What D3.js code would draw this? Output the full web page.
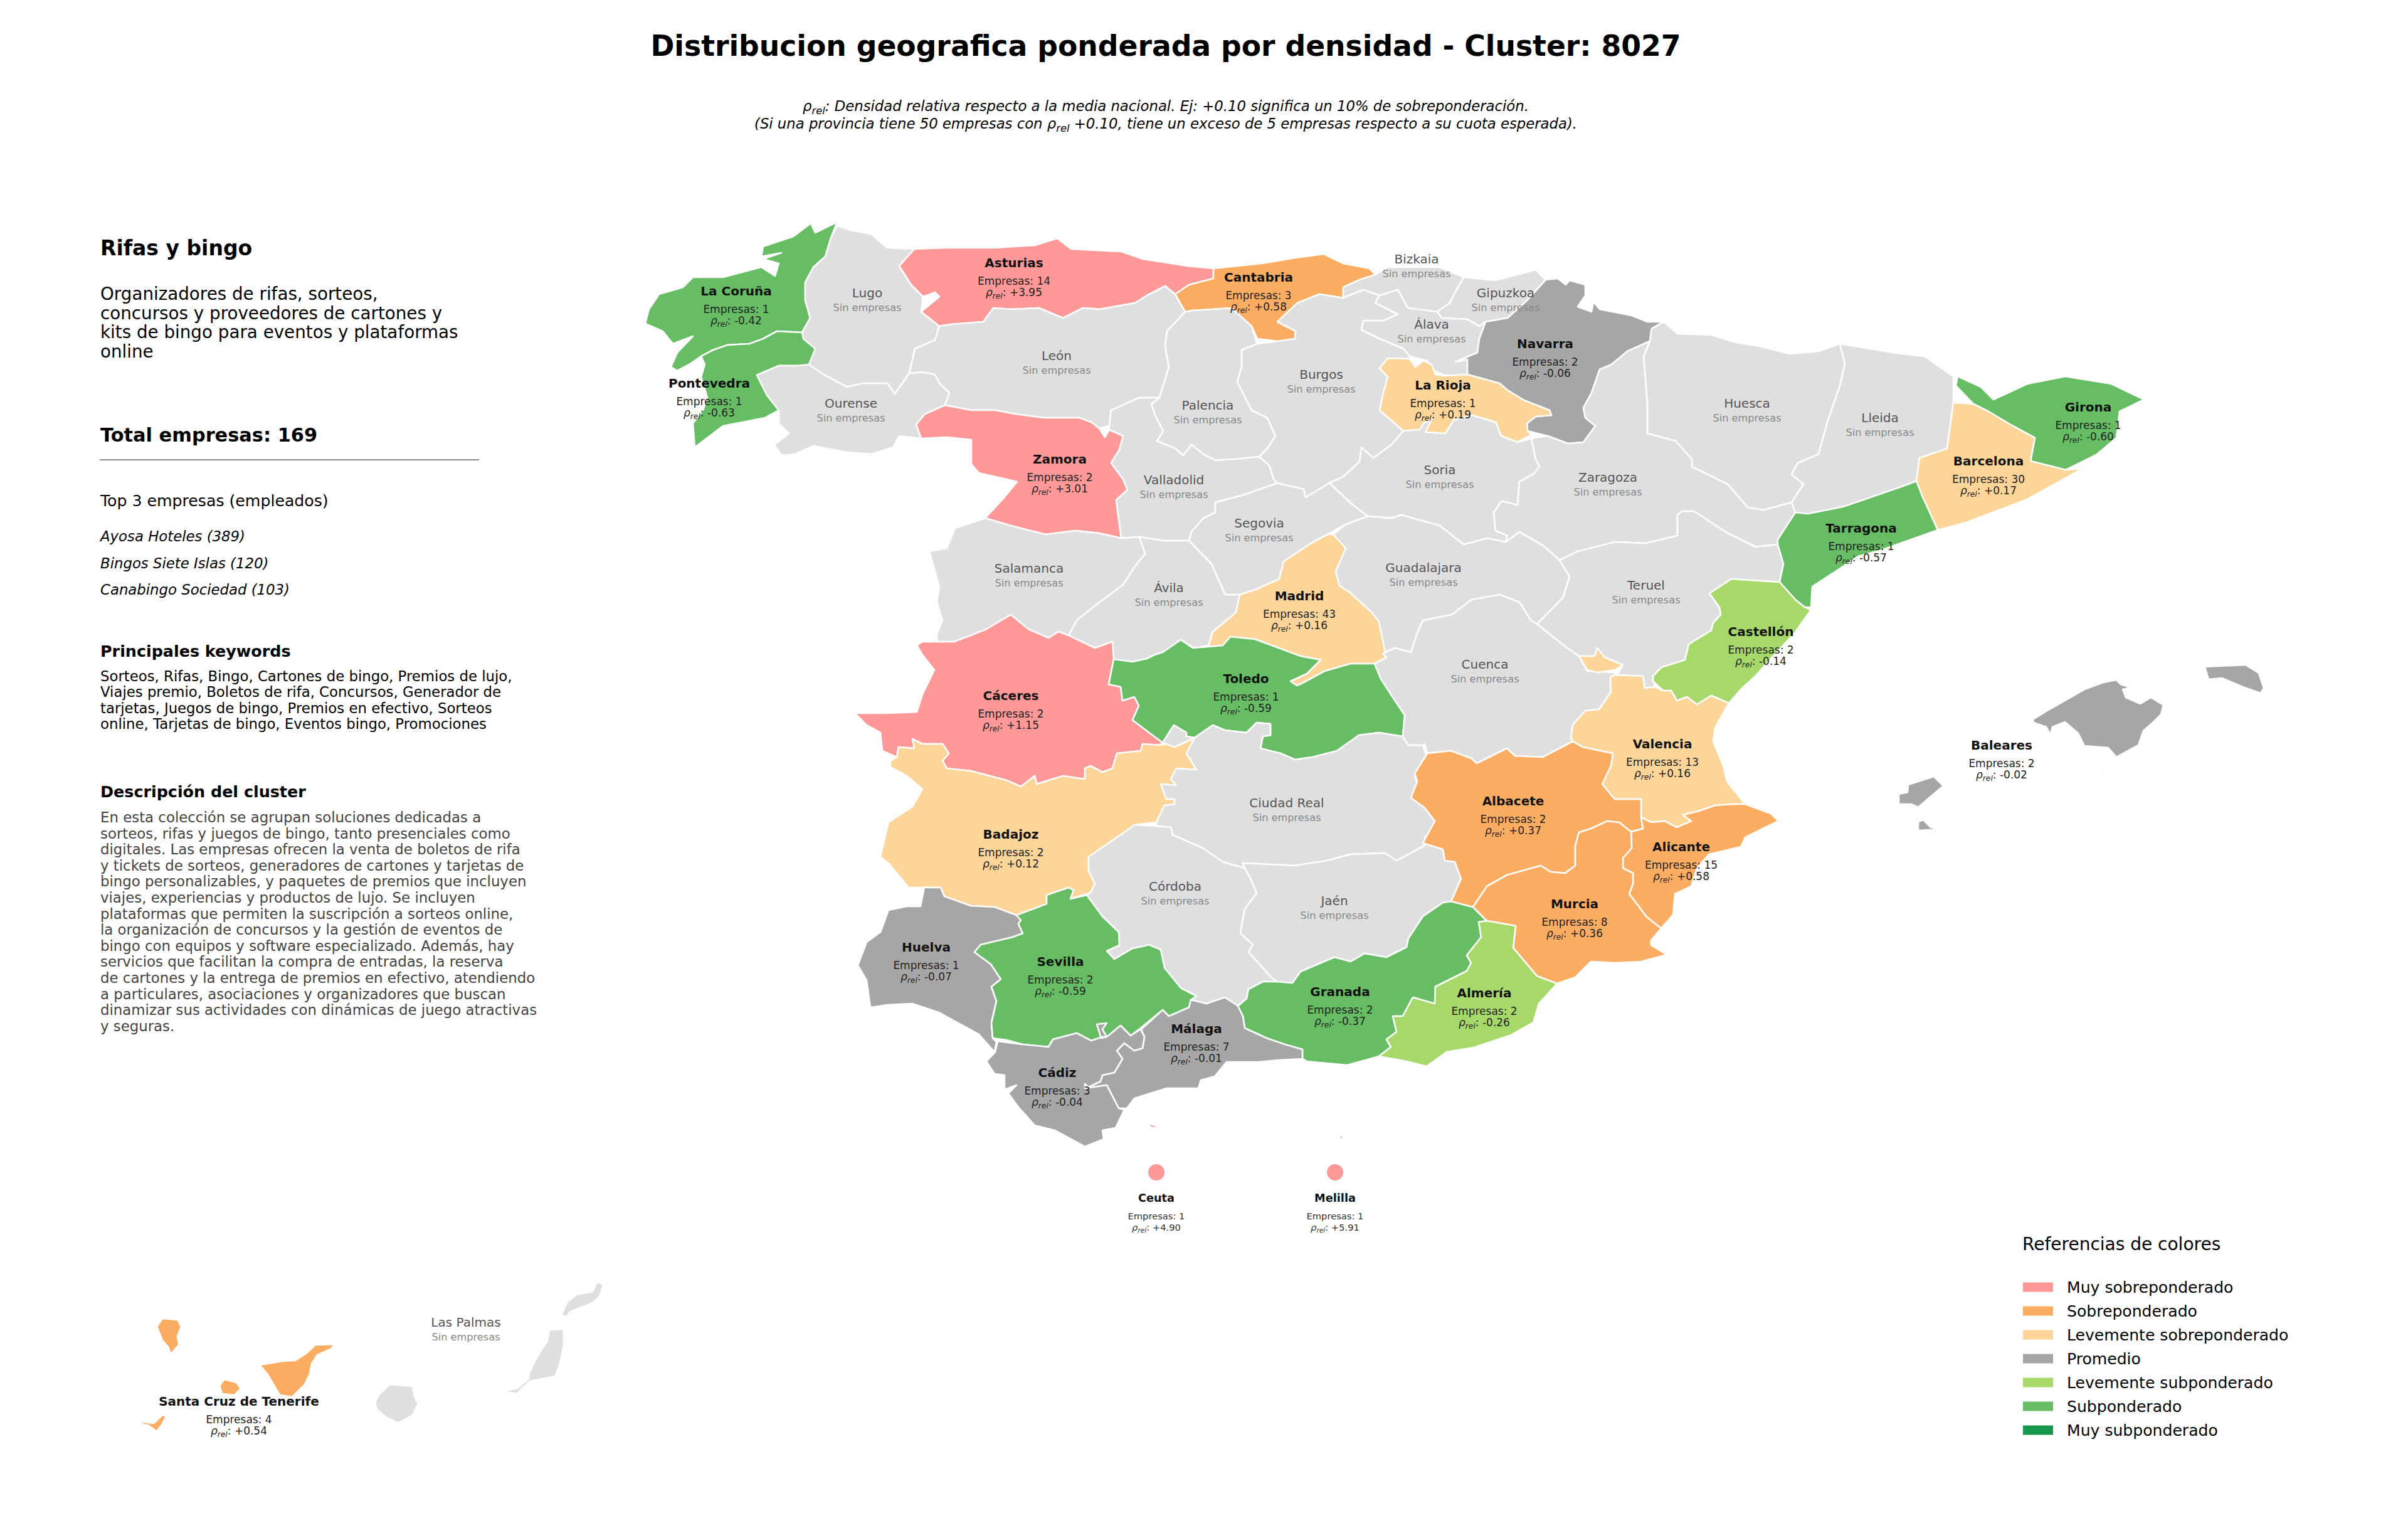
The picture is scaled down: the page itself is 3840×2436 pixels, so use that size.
<!DOCTYPE html>
<html><head><meta charset="utf-8">
<style>html,body{margin:0;padding:0;background:#fff}svg{display:block}text{font-family:"DejaVu Sans",sans-serif}</style>
<script src="https://cdn.jsdelivr.net/npm/d3@7/dist/d3.min.js"></script>
</head><body><svg id="c" width="3840" height="2436"></svg>
<script>
const titleText = "Distribucion geografica ponderada por densidad - Cluster: 8027";
const clusterName = "Rifas y bingo";
const clusterBlurb = ["Organizadores de rifas, sorteos,","concursos y proveedores de cartones y","kits de bingo para eventos y plataformas","online"];
const totalText = "Total empresas: 169";
const topHeading = "Top 3 empresas (empleados)";
const topCompanies = ["Ayosa Hoteles (389)","Bingos Siete Islas (120)","Canabingo Sociedad (103)"];
const keywordHeading = "Principales keywords";
const keywordLines = ["Sorteos, Rifas, Bingo, Cartones de bingo, Premios de lujo,","Viajes premio, Boletos de rifa, Concursos, Generador de","tarjetas, Juegos de bingo, Premios en efectivo, Sorteos","online, Tarjetas de bingo, Eventos bingo, Promociones"];
const descHeading = "Descripción del cluster";
const descLines = ["En esta colección se agrupan soluciones dedicadas a","sorteos, rifas y juegos de bingo, tanto presenciales como","digitales. Las empresas ofrecen la venta de boletos de rifa","y tickets de sorteos, generadores de cartones y tarjetas de","bingo personalizables, y paquetes de premios que incluyen","viajes, experiencias y productos de lujo. Se incluyen","plataformas que permiten la suscripción a sorteos online,","la organización de concursos y la gestión de eventos de","bingo con equipos y software especializado. Además, hay","servicios que facilitan la compra de entradas, la reserva","de cartones y la entrega de premios en efectivo, atendiendo","a particulares, asociaciones y organizadores que buscan","dinamizar sus actividades con dinámicas de juego atractivas","y seguras."];
const legendTitle = "Referencias de colores";
const legendLabels = ["Muy sobreponderado","Sobreponderado","Levemente sobreponderado","Promedio","Levemente subponderado","Subponderado","Muy subponderado"];
const legendColors = ["#ff9896","#fdad62","#fed598","#a6a6a6","#a6d96a","#66bd63","#1a9850"];

const names = ["La Coruña","Lugo","Asturias","Pontevedra","Ourense","León","Palencia","Zamora","Valladolid","Salamanca","Ávila","Cantabria","Bizkaia","Gipuzkoa","Álava","Navarra","Burgos","La Rioja","Huesca","Soria","Zaragoza","Segovia","Guadalajara","Madrid","Teruel","Lleida","Girona","Barcelona","Tarragona","Cáceres","Toledo","Badajoz","Ciudad Real","Córdoba","Jaén","Huelva","Sevilla","Granada","Cuenca","Castellón","Valencia","Albacete","Alicante","Murcia","Almería","Málaga","Cádiz","Baleares","Santa Cruz de Tenerife","Las Palmas","Ceuta","Melilla"];
const empresas = [1,0,14,1,0,0,0,2,0,0,0,3,0,0,0,2,0,1,0,0,0,0,0,43,0,0,1,30,1,2,1,2,0,0,0,1,2,2,0,2,13,2,15,8,2,7,3,2,4,0,1,1];
const rho = [-0.42,null,3.95,-0.63,null,null,null,3.01,null,null,null,0.58,null,null,null,-0.06,null,0.19,null,null,null,null,null,0.16,null,null,-0.60,0.17,-0.57,1.15,-0.59,0.12,null,null,null,-0.07,-0.59,-0.37,null,-0.14,0.16,0.37,0.58,0.36,-0.26,-0.01,-0.04,-0.02,0.54,null,4.90,5.91];
const labelX = [117.4,138.3,161.7,113.1,135.7,168.5,192.6,169,187.2,164.1,186.4,200.7,225.9,240.1,228.3,246.4,210.7,230.1,278.6,229.6,256.4,200.8,227,207.2,262.5,299.8,333,317.1,296.8,161.2,198.7,161.2,205.2,187.4,212.8,147.7,169.1,213.7,236.8,280.8,265.1,241.3,268.1,251.1,236.7,190.8,168.6,319.2,38.1,74.3,184.4,212.9];
const labelY = [46.4,46.7,41.9,61.1,64.3,56.7,64.6,73.2,76.5,90.6,93.7,44.2,41.3,46.7,51.7,54.8,59.7,61.4,64.3,74.9,76.1,83.4,90.5,95,93.3,66.6,64.9,73.5,84.2,110.9,108.2,133,128,141.3,143.6,151,153.3,158.1,105.9,100.7,118.6,127.7,135,144.1,158.3,164,171,118.8,223.4,210.8,191,191];

// Outlines, in map grid units (flat x,y lists, one list per ring)
const outlines = {
"La Coruña":[[133.5,35.4,132.5,37.9,131.6,40.9,129.7,42.6,128.4,45,128.4,47.9,129.2,50.7,127.9,53,123.9,52.8,121.7,54,119.5,54.8,116,55,113.7,55.8,111.8,56.8,109.9,58.1,108,59.1,107,58.5,108,56.2,110.5,53.6,107.3,54.8,105.7,52.8,102.9,51.6,103.5,49.3,105.1,46.9,108.9,45.8,110.5,44.2,115.3,44.2,119.1,43.2,121.4,42.6,123.6,44,124.2,42,121.7,41.3,124.6,40.3,121.4,40.9,121.7,39.3,126.5,37.7,129.3,35.6,130,37.1]],
"Pontevedra":[[127.9,53,128.1,54,130,55.6,129,58.1,127.4,58.3,124.2,58.3,120.7,59.8,122.3,63,124.2,65.4,122,66.6,115.3,67.9,110.8,71.3,110.5,67.5,112.1,65.4,112.8,63.4,111.8,60.1,112.4,58.1,111.8,56.8,113.7,55.8,116,55,119.5,54.8,121.7,54,123.9,52.8]],
"Lugo":[[133.5,36,135.7,36.7,138.9,37.3,141.5,39.5,145.8,39.7,143.4,42.4,145.3,45.4,147.2,47.3,146.9,49.7,149.8,52,149.1,54.2,145.9,55.6,145,59.5,142.7,62.8,141.5,61.1,137.6,61.1,135.1,61.7,131.3,59.7,129,58.1,130,55.6,128.1,54,127.9,53,129.2,50.7,128.4,47.9,128.4,45,129.7,42.6,131.6,40.9,132.5,37.9]],
"Asturias":[[145.8,39.7,151,39.5,158.7,39.5,165.1,39.1,168.6,38,170.8,39.7,178.8,40.1,182.3,41.3,189.3,42.4,193.5,42.8,193.5,44.4,189.6,45.4,187.4,46.9,185.8,45.6,182.9,47.1,181,48.3,175.3,49.3,172.7,49.1,169.5,50.7,165.7,49.1,161.2,49.3,158.4,49.1,156.8,51.3,151.7,51.7,149.8,52,146.9,49.7,149.8,47.3,149.1,46.6,147.2,47.3,145.3,45.4,143.4,42.4]],
"León":[[149.8,52,151.7,51.7,156.8,51.3,158.4,49.1,161.2,49.3,165.7,49.1,169.5,50.7,172.7,49.1,175.3,49.3,181,48.3,182.9,47.1,185.8,45.6,187.4,46.9,189,49.7,186.1,52.8,185.8,55.2,186.4,58.5,184.9,63.4,181.7,63.4,177.2,65.4,176.9,67.9,175.3,68.3,174,67.3,172.1,66.6,166.4,66.6,161.9,66,158.7,65.4,154.9,65.4,150.7,64.6,151.4,62.6,149.8,61.1,149.1,59.7,147.2,59.3,145,59.5,145.9,55.6,149.1,54.2]],
"Ourense":[[129,58.1,131.3,59.7,135.1,61.7,137.6,61.1,141.5,61.1,142.7,62.8,145,59.5,147.2,59.3,149.1,59.7,149.8,61.1,151.4,62.6,150.7,64.6,147.5,66,146.1,67.7,146.9,69.9,143.4,69.5,142.4,71.3,138.9,72.4,135.1,72.1,129.7,71.1,126.8,72.4,124.6,72.6,123.5,70.9,125.8,69.1,124.2,67.5,124.2,65.4,122.3,63,120.7,59.8,124.2,58.3,127.4,58.3]],
"Zamora":[[150.7,64.6,154.9,65.4,158.7,65.4,161.9,66,166.4,66.6,172.1,66.6,174,67.3,175.3,68.3,176.2,69.7,176.9,68.5,179.1,69.5,178.5,71.7,177.2,73.8,179.1,76.4,179.8,78.1,178,79.7,178.8,85.8,175.3,85,171.5,84.6,166.7,85.2,161.2,83.8,157.1,82.6,160.3,79.1,162.2,76.8,156.1,75.4,154.9,74,154.9,70.1,151,69.7,146.9,69.9,146.1,67.7,147.5,66]],
"Salamanca":[[157.1,82.6,161.2,83.8,166.7,85.2,171.5,84.6,175.3,85,178.8,85.8,181.7,85.6,182.6,88.3,181,90.3,179.1,93.2,174.6,96.6,171.7,98.9,170.4,101.3,168.8,100.7,167.2,101.7,164,100.3,161.2,98,157.3,100.3,154.8,101.3,152.2,102.3,149.4,102.3,149.4,101.1,150.3,98.9,149.4,96,149.8,93.6,148.2,87.9,151,87.4,152.3,84.2]],
"Valladolid":[[176.9,68.5,176.9,67.9,177.2,65.4,181.7,63.4,184.9,63.4,183.6,64.4,184.2,66.2,185.5,68.7,184.5,70.3,187.4,71.5,188.7,72.6,190,70.9,191.9,72.4,193.8,73.4,197,73.2,200.8,72.8,202.4,74.2,203.1,76.4,203.7,77,198.3,78.9,193.8,80.1,193.8,81.7,191.9,82.6,190,84.8,189.6,86.2,185.5,86.2,181.7,85.6,178.8,85.8,178,79.7,179.8,78.1,179.1,76.4,177.2,73.8,178.5,71.7,179.1,69.5]],
"Palencia":[[187.4,46.9,189,49.7,190,49.5,196.4,49.1,199.6,52,200.2,54,200.5,54.8,198,55.8,198,58.5,197.3,60.9,199.6,65.4,202.1,66.6,203.4,69.5,202.1,71.5,200.8,72.8,197,73.2,193.8,73.4,191.9,72.4,190,70.9,188.7,72.6,187.4,71.5,184.5,70.3,185.5,68.7,184.2,66.2,183.6,64.4,184.9,63.4,186.4,58.5,185.8,55.2,186.1,52.8,189,49.7]],
"Ávila":[[181.7,85.6,185.5,86.2,189.6,86.2,190,86.6,193.2,89.9,195.4,94.8,197.7,94.8,197.1,97.6,196.2,98.4,193.4,100.7,192.7,102.9,190.5,103.3,188.3,102,185.4,104,184.1,104.4,182.9,105,180.6,105.5,177.6,105.1,177.4,102.3,174.6,103.3,170.4,101.3,171.7,98.9,174.6,96.6,179.1,93.2,181,90.3,182.6,88.3]],
"Cantabria":[[193.5,42.8,201.2,42,206.6,41.1,211.1,40.5,214.2,42,218.4,42.8,219.3,43.8,216.8,44.6,214.2,45.8,214.2,47.5,210.4,46.9,206.9,48.3,203.7,51.3,206.6,52.8,206.5,54,203.7,54.4,200.5,54,199.6,52,196.4,49.1,190,49.5,189,49.7,187.4,46.9,189.6,45.4,193.5,44.4]],
"Bizkaia":[[219.3,43.8,221.3,42.6,229.6,42.6,233.4,44.2,231.8,47.1,231.2,48.3,229.2,49.7,224.5,49.1,222.9,46.2,220,47.1,217.4,46.2,214.2,47.5,214.2,45.8,216.8,44.6]],
"Gipuzkoa":[[233.4,44.2,238.5,44.7,244.9,43,246.5,44.6,243.3,48.1,240.4,50.7,236.9,51.3,235.9,52,234,50.9,229.9,50.7,229.2,49.7,231.2,48.3,231.8,47.1]],
"Álava":[[220,47.1,222.9,46.2,224.5,49.1,229.2,49.7,229.9,50.7,234,50.9,235.9,52,236.9,51.3,235.9,54,235.6,56.2,232.1,57.7,234,57.3,234,59.7,230.5,59.9,228.3,58.9,227.6,57.5,224.8,56.8,223.8,55.6,220,54,217.1,52.6,217.4,51.1,220.6,51.1,222.9,50.1,219.3,48.3]],
"Navarra":[[246.5,44.6,248.4,44.4,249.7,45.4,250.3,44.7,252.8,45.4,252.8,47.1,251.6,48.9,253.8,49.7,254.1,48.1,255.1,49.3,260.2,50.3,262.7,51.3,265.3,51.3,263.4,52.4,263.1,54.4,259.5,56,257,58.1,255.1,58.9,253.8,62.6,252.5,65,252.8,66.6,254.4,67.9,252.5,70.5,250,70.7,246.8,69.5,243.6,68.7,243.5,67.5,244.9,66.4,247.4,66.2,247.1,65.4,243,63.8,240.4,62.2,239.1,61.1,234,59.7,234,57.3,232.1,57.7,235.6,56.2,235.9,54,236.9,51.3,240.4,50.7,243.3,48.1]],
"La Rioja":[[221.3,57.1,224.8,57.2,225.7,58.5,227,57.5,228.3,58.1,228.9,59.7,230.2,59.9,234,59.7,239.1,61.1,240.4,62.2,243,63.8,247.1,65.4,247.4,66.2,244.9,66.4,243.5,67.5,243.6,68.7,244.2,69.3,242,70.5,239.4,69.5,238.5,67.3,234.7,66.2,231.8,67,230.5,69.1,227.3,68.9,228.3,66.8,227,67.5,226.4,68.5,223.8,68.7,220,65.4,220.6,62.6,221.3,60.1,220,58.7]],
"Burgos":[[200.5,54.8,203.7,54.4,206.5,54,206.6,52.8,203.7,51.3,206.9,48.3,210.4,46.9,214.2,47.5,217.4,46.2,220,47.1,219.3,48.3,222.9,50.1,220.6,51.1,217.4,51.1,217.1,52.6,220,54,223.8,55.6,224.8,56.8,224.8,57.2,221.3,57.1,220,58.7,221.3,60.1,220.6,62.6,220,65.4,223.8,68.7,221.9,70.9,219,73,217.1,71.3,216.8,73.6,214.2,76,212,77,208.2,79.3,207.9,78,203.7,77,203.1,76.4,202.4,74.2,200.8,72.8,202.1,71.5,203.4,69.5,202.1,66.6,199.6,65.4,197.3,60.9,198,58.5,198,55.8]],
"Soria":[[223.8,68.7,226.4,68.5,227,67.5,228.3,66.8,227.3,68.9,230.5,69.1,231.8,67,234.7,66.2,238.5,67.3,239.4,69.5,242,70.5,244.2,69.9,244.9,73.2,245.5,74.4,244.5,75.6,242.3,76.8,242,80.5,239.4,79.9,238.2,81.7,238.5,84.6,240.4,85.4,240.1,86.4,237.2,85.8,233.4,86.8,229.6,83.8,223.5,82.1,221.9,82.6,218.1,82.3,215.5,80.3,212,77,214.2,76,216.8,73.6,217.1,71.3,219,73,221.9,70.9]],
"Segovia":[[193.8,80.1,198.3,78.9,203.7,77,207.9,78,208.2,79.3,212,77,215.5,80.3,218.1,82.3,214.6,83.6,211.7,85.2,209.1,86.6,204.7,89.5,204,92.3,200.2,94,197.7,94.8,195.4,94.8,193.2,89.9,190,86.6,189.6,86.2,190,84.8,191.9,82.6,193.8,81.7]],
"Guadalajara":[[218.1,82.3,221.9,82.6,223.5,82.1,229.6,83.8,233.4,86.8,237.2,85.8,240.1,86.4,242.3,84.8,246.1,87,248.7,89.3,250.3,91.9,249.3,95.2,245.1,99.5,244.1,98.9,242.3,96,239.1,94.8,234.7,95.6,231.5,98,226.9,98.9,226,100.9,225,104,222.4,103.3,220.5,104.2,220.5,102.1,219.9,99.1,218.7,97.6,215.2,94.4,213.6,93.4,213,91.1,214.6,87.4,212.6,85.2,214.6,83.6]],
"Madrid":[[211.7,85.2,212.6,85.2,214.6,87.4,213,91.1,213.6,93.4,215.2,94.4,218.7,97.6,219.9,99.1,220.5,102.1,221.1,104.8,219.2,105.8,215.4,105.8,211.2,107,207.7,108.9,206.8,109.3,205.8,108.6,208.4,107.4,210.6,105.2,207.4,104.6,203.9,103.3,200.1,101.9,196.2,101.5,195,102.9,192.7,103.1,193.4,100.7,196.2,98.4,197.1,97.6,197.7,94.8,200.2,94,204,92.3,204.7,89.5,209.1,86.6]],
"Toledo":[[177.6,105.1,180.6,105.5,182.9,105,184.1,104.4,185.4,104,188.3,102,190.2,103.3,192.7,103.1,195,102.9,196.2,101.5,200.1,101.9,203.9,103.3,207.4,104.6,210.6,105.2,208.4,107.4,205.8,108.6,206.8,109.3,207.7,108.9,211.2,107,215.4,105.8,219.2,105.8,220.2,108.2,221.8,110.7,224,114,223.7,117.4,219.9,116.8,216.7,117.2,213.2,119.7,209.3,120.7,206.5,121.1,204.2,120.1,201,119.3,201.4,117.4,202.6,117.2,202.6,115.4,200.4,115.2,198.8,116.8,195.3,116.4,193.4,115.6,190.5,117.6,189.2,117.4,189.2,116.8,187.2,115.6,185.4,118.4,180.6,114.8,181.6,112.5,180.9,111.1,179,111.7,178.7,109.5,176.8,109.1]],
"Cáceres":[[149.4,102.3,152.2,102.3,154.8,101.3,157.3,100.3,161.2,98,164,100.3,167.2,101.7,168.8,100.7,170.4,101.3,174.6,103.3,177.4,102.3,177.6,105.1,176.8,109.1,178.7,109.5,179,111.7,180.9,111.1,181.6,112.5,180.6,114.8,185.4,118.4,184.8,118.8,182.2,118.6,181.9,119.7,178.1,120.1,177.4,122.5,175.8,123.1,173.9,122.1,173,122.5,173,124.2,169.5,123.7,166.6,124.6,165.3,125,165,123.7,162.8,125.4,160.5,124.4,154.8,122.9,151,122.5,150.3,121.3,151.3,120.1,150.3,118.6,147.1,118.6,145.5,117.8,145.8,119.3,143.3,119.1,143,120.7,140.7,119.7,140.4,116.8,138.2,115.6,136.3,113.7,141.4,113.7,146.2,113.5,147.1,110.7,149,106.8,147.1,104.4,146.2,102.9,147.1,102.3]],
"Badajoz":[[143,120.7,143.3,119.1,145.8,119.3,145.5,117.8,147.1,118.6,150.3,118.6,151.3,120.1,150.3,121.3,151,122.5,154.8,122.9,160.5,124.4,162.8,125.4,165,123.7,165.3,125,166.6,124.6,169.5,123.7,173,124.2,173,122.5,173.9,122.1,175.8,123.1,177.4,122.5,178.1,120.1,181.9,119.7,182.2,118.6,184.8,118.8,186,118.6,187.3,119.1,190.5,117.6,189.2,120.1,190.8,122.7,187.6,122.5,186.7,124.2,187.6,125.2,185.1,125,186,127.4,187.3,127.4,187.3,128.2,185.7,128.4,184.4,131.1,180.9,131.5,179,132.9,176.8,134.4,173.6,136.6,173.6,138.8,174.6,140.9,173.9,142.3,173.3,142.5,170.7,143.3,171.2,141.9,170.4,141.5,166.9,142.7,166.9,144.1,162.1,145.9,158.6,144.6,154.8,144.4,150.6,142.9,150,141.5,147.8,141.5,144.9,141.5,141.7,137.6,140.4,136.6,141.7,131.1,145.5,128.6,147.1,125.8,144.6,123.7,142,122.3,142,121.3]],
"Ciudad Real":[[190.5,117.6,193.4,115.6,195.3,116.4,198.8,116.8,200.4,115.2,202.6,115.4,202.6,117.2,201.4,117.4,201,119.3,204.2,120.1,206.5,121.1,209.3,120.7,213.2,119.7,216.7,117.2,219.9,116.8,223.7,117.4,224.6,118.8,226.9,118.8,227.5,120.5,225.6,123.7,226.2,125.4,225,127.2,227.2,128.6,229.1,131.3,227.2,133.5,227.2,134.8,222.7,137.2,220.8,136,215.4,136.2,211.6,137.2,206.5,138,198.2,137.6,198.5,138.4,195,137.4,191.8,135.2,187,133.1,186.7,131.9,184.4,131.7,184.4,131.1,185.7,128.4,187.3,128.2,187.3,127.4,186,127.4,185.1,125,187.6,125.2,186.7,124.2,187.6,122.5,190.8,122.7,189.2,120.1],[185.4,118.4,187.2,115.6,189.2,116.8,189.2,117.4,190.5,117.6,187.3,119.1,186,118.6]],
"Cuenca":[[220.5,104.2,222.4,103.3,225,104,226,100.9,226.9,98.9,231.5,98,234.7,95.6,239.1,94.8,242.3,96,244.1,98.9,245.1,99.5,249.9,103.3,251.8,104.6,253.1,107,257.5,107.2,257.5,107.6,256.8,108,256.9,110.3,255,113.1,252.8,113.3,250.8,115.6,250.5,117.6,250.8,118.2,246,120.7,241.6,120.5,240.3,119.3,235.5,121.7,234.6,120.9,231.4,119.7,227.6,120.1,227.2,118.6,226.9,118.8,224.6,118.8,223.7,117.4,224,114,221.8,110.7,220.2,108.2,219.2,105.8,221.1,104.8]],
"Teruel":[[248.7,89.3,251.6,87.9,257.6,86.4,262.4,86.6,267.5,85.4,267.5,82.1,268.2,81.5,270.1,81.5,275.5,85,280,87.2,283.5,86.8,284.4,89.9,283.8,92.8,276.1,92.3,272.6,94.6,274.2,96.8,274.4,98,273.2,99.3,272.9,100.5,269.3,102.7,268.7,105.2,264.9,106.4,263.6,107.8,263.9,109.5,262.3,109.7,262,107.8,257.9,107.6,258.8,106,255.9,104.8,254.7,103.3,254.3,104.6,251.8,104.6,249.9,103.3,245.1,99.5,249.3,95.2,250.3,91.9]],
"Zaragoza":[[244.2,69.9,246.8,69.5,250,70.7,252.5,70.5,254.4,67.9,252.8,66.6,252.5,65,253.8,62.6,255.1,58.9,257,58.1,259.5,56,263.1,54.4,262.1,56.8,262.4,60.5,262.7,64.6,262.7,69.1,267.2,70.3,269.8,73.2,269.8,74.4,275.5,77.2,278.7,80.9,281.2,81.3,285.7,80.1,286.3,81.7,283.5,86,283.5,86.8,280,87.2,275.5,85,270.1,81.5,268.2,81.5,267.5,82.1,267.5,85.4,262.4,86.6,257.6,86.4,251.6,87.9,248.7,89.3,246.1,87,242.3,84.8,240.1,86.4,240.4,85.4,238.5,84.6,238.2,81.7,239.4,79.9,242,80.5,242.3,76.8,244.5,75.6,245.5,74.4,244.9,73.2]],
"Huesca":[[265.3,51.3,267.5,53.2,272.9,53.4,276.8,54.6,280.6,55.2,285.4,56.4,290,56,293.4,54.8,294.2,58,293.4,61.5,291.5,67,290,72.4,286.7,73.8,285.7,75.6,287.6,77.2,285.7,80.1,281.2,81.3,278.7,80.9,275.5,77.2,269.8,74.4,269.8,73.2,267.2,70.3,262.7,69.1,262.7,64.6,262.4,60.5,262.1,56.8,263.1,54.4,263.4,52.4]],
"Lleida":[[293.4,54.8,302.5,56.3,306.9,56.8,311.5,60,311.5,64.2,310.5,71.5,306.1,73,305.6,76.7,303.2,77.6,293.9,80.8,288.3,81.9,286.3,81.7,285.7,80.1,287.6,77.2,285.7,75.6,286.7,73.8,290,72.4,291.5,67,293.4,61.5,294.2,58]],
"Tarragona":[[288.3,81.9,293.9,80.8,303.2,77.6,305.6,76.7,306.5,79,309,84.5,300,87.7,296.3,88.7,292.7,91.1,289,93.5,288.8,96.8,287.8,96.8,286.3,95.6,283.8,92.8,284.4,89.9,283.5,86.8,283.5,86,286.3,81.7]],
"Girona":[[312.2,60,315.9,61.7,317.9,63.7,323.3,61.2,329.4,60,336.7,61.2,341.9,63.7,338,65.6,337.5,69.8,334.3,72.5,329.4,74.9,323.8,73.5,324.5,69.8,320.8,67.8,317.1,65.6,314.7,64.4,311.9,61.5]],
"Barcelona":[[311.5,64.2,314.7,64.4,317.1,65.6,320.8,67.8,324.5,69.8,323.8,73.5,329.4,74.9,332.1,74.7,323.3,79.6,313.5,83.3,309,84.5,306.5,79,305.6,76.7,306.1,73,310.5,71.5]],
"Castellón":[[283.8,92.8,286.3,95.6,287.8,96.8,288.8,97.2,286.2,100.9,282.4,105,279.9,107.8,277.6,109.9,275.7,112.1,272.9,110.9,270.6,112.3,269,111.1,267.4,111.7,266.5,110.1,265.2,110.1,263.6,108.6,263.6,107.8,264.9,106.4,268.7,105.2,269.3,102.7,272.9,100.5,273.2,99.3,274.4,98,274.2,96.8,272.6,94.6,276.1,92.3]],
"Valencia":[[257.5,107.6,262,107.8,262.3,109.7,263.9,109.5,265.2,110.1,266.5,110.1,267.4,111.7,269,111.1,270.6,112.3,272.9,110.9,275.7,112.1,273.5,116,273.2,118.2,274.8,122.1,275.4,124.6,278.3,128.2,276.4,128.2,273.5,128.4,270.9,129.3,268.4,129.9,269.7,130.9,267.4,131.9,265.5,130.9,263.3,131.1,261.7,130.3,261.7,127.4,257.5,127.4,255.5,125,256.9,122.1,257.2,120.1,252.4,119.1,250.8,118.2,250.5,117.6,250.8,115.6,252.8,113.3,255,113.1,256.9,110.3,256.8,108],[251.8,104.6,254.3,104.6,254.7,103.3,255.9,104.8,258.8,106,257.5,106.8,254.7,107.2,253.1,106.8]],
"Albacete":[[227.6,120.1,231.4,119.7,234.6,120.9,235.5,121.7,240.3,119.3,241.6,120.5,246,120.7,250.8,118.2,252.4,119.1,257.2,120.1,256.9,122.1,255.5,125,257.5,127.4,261.7,127.4,261.7,130.3,262,132.1,260.1,132.6,258.2,131.1,256.3,130.9,253.7,132.1,251.8,132.7,251.2,134.8,251.2,138,249.6,139.2,247.3,139,245.7,138,240.3,139.5,237.1,141.3,234.9,144.6,231.4,143.7,233,140.1,232,137.4,230.4,137.2,230.1,135.4,226.9,134.4,228.8,130.9,227.2,128.8,225,127.2,226,124.6,225.6,123.3]],
"Murcia":[[234.9,144.6,237.1,141.3,240.3,139.5,245.7,138,247.3,139,249.6,139.2,251.2,138,251.2,134.8,251.8,132.7,253.7,132.1,256.3,130.9,258.2,131.1,260.1,132.6,260.2,135.2,258.8,136.8,258.8,138.4,260.4,139.2,260.4,140.9,259.8,142.5,262.6,146.2,264.9,148,263.3,149.9,263.3,150.7,265.8,152.2,261.7,153.3,257.5,153.5,253.7,153.3,251.2,155.8,248.3,156.8,245.1,155.6,241.3,151.1,241.7,147.6,237.1,146.8]],
"Alicante":[[260.1,132.6,262,132.1,261.7,130.3,263.3,131.1,265.5,130.9,267.4,131.9,269.7,130.9,268.4,129.9,270.9,129.3,273.5,128.4,276.4,128.2,278.3,128.2,282.4,129.7,283.6,130.9,281.1,132.1,278.3,133.5,277.6,135,272.5,136.2,270.6,138.4,269.7,141.3,267.1,142.5,266.8,145.8,264.9,148,262.6,146.2,259.8,142.5,260.4,140.9,260.4,139.2,258.8,138.4,258.8,136.8,260.2,135.2]],
"Almería":[[235.8,147,237.1,146.8,241.7,147.6,241.3,151.1,245.1,155.6,248.3,156.8,245.4,160,244.5,163,241,165,235,167,230.7,167.7,227.5,170,224.3,169.2,219.9,168.4,221.8,166.9,221.1,165.7,222.7,164.5,222.1,162,223.7,162,225.3,159,228.8,160,228.9,157.3,233.9,154.8,234.6,153.5,233.9,152.3,236.2,149.4]],
"Granada":[[231.4,143.7,234.9,144.6,237.1,146.8,235.8,147,236.2,149.4,233.9,152.3,234.6,153.5,233.9,154.8,228.9,157.3,228.8,160,225.3,159,223.7,162,222.1,162,222.7,164.5,221.1,165.7,221.8,166.9,219.9,168.4,219.2,168.6,214.8,169.8,208.4,169.2,207.7,168.8,207.7,167.3,204.9,166.5,202,165.5,198.5,163.9,198.2,162,197.4,160.4,198.8,159.2,199.1,157.7,201.4,156.5,203.6,156.5,206.1,156.7,207.4,154.9,212.8,152.6,215.4,153.3,217.6,152,221.1,152.6,224.3,151,224.6,149.6,226.9,146.1,230.1,143.9]],
"Jaén":[[198.2,137.6,206.5,138,211.6,137.2,215.4,136.2,220.8,136,222.7,137.2,227.2,134.8,226.9,134.4,230.1,135.4,230.4,137.2,232,137.4,233,140.1,231.4,143.7,230.1,143.9,226.9,146.1,224.6,149.6,224.3,151,221.1,152.6,217.6,152,215.4,153.3,212.8,152.6,207.4,154.9,206.1,156.7,203.6,156.5,202.6,155.7,201.4,154.3,199.1,151.8,199.8,150.6,197.8,148.8,198.5,144.9,200.4,142.4,199.4,140,198.5,138.4]],
"Córdoba":[[184.4,131.7,186.7,131.9,187,133.1,191.8,135.2,195,137.4,198.5,138.4,199.4,140,200.4,142.4,198.5,144.9,197.8,148.8,199.8,150.6,199.1,151.8,201.4,154.3,202.6,155.7,203.6,156.5,201.4,156.5,199.1,157.7,198.8,159.2,197.4,160.4,197.2,160.2,195.3,159,192.4,160,189.9,159.4,190.8,158.8,188.3,157.5,185.7,154.3,185.1,151.4,183.2,150.6,182.5,150.8,180.6,151.2,177.7,152.9,176.5,151.6,178.5,150.7,178.4,148.6,175.8,146.1,173.3,142.7,173.9,142.3,174.6,140.9,173.6,138.8,173.6,136.6,176.8,134.4,179,132.9,180.9,131.5]],
"Sevilla":[[173.3,142.7,175.8,146.1,178.4,148.6,178.5,150.7,176.5,151.6,177.7,152.9,180.6,151.2,182.5,150.8,183.2,150.6,185.1,151.4,185.7,154.3,188.3,157.5,190.8,158.8,189.9,159.4,189.6,160.6,186.4,162,185.4,161,181.9,163.9,180.3,165.1,178.7,163.5,176.5,165.3,174,165.9,171.7,164.7,167.9,165.7,167.2,166.9,163.1,166.5,160.5,165.8,158.3,165.5,158.1,163.1,158.9,159.6,158.1,157.3,159.6,156.1,158,153.7,155.4,151.8,156.4,150.6,161.5,149.4,163.1,148.8,162.4,147.3,162.8,146.7,162.1,145.9,166.9,144.1,166.9,142.7,170.4,141.5,171.2,141.9,170.7,143.3]],
"Huelva":[[147.8,141.5,150,141.5,150.6,142.9,154.8,144.4,158.6,144.6,162.1,145.9,162.8,146.7,162.4,147.3,163.1,148.8,161.5,149.4,156.4,150.6,155.4,151.8,158,153.7,159.6,156.1,158.1,157.3,158.9,159.6,158.1,163.1,158.3,165.5,158.9,166.1,158.6,167.7,156.1,164.9,149.7,161.4,145.5,160,141.4,160.2,138.8,160.6,138.2,156.3,136.8,153.9,138.2,150.2,140.4,148.6,141.7,145.1,144.6,144.5,146.8,144.5,147.4,141.4]],
"Cádiz":[[159.1,166,163.1,166.5,167.2,166.9,167.9,165.7,171.7,164.7,174,165.9,175.8,165.3,176.5,165.3,178.7,163.5,180.3,165.1,181.9,164.1,182.5,165.3,182.2,167.1,180.9,167.5,179.3,166.3,178.1,167.5,179,168.8,177.7,171,175.8,171.4,175.5,172.4,173.6,173.3,173,172.8,173,173.5,176.5,173,178.4,176.7,179.3,176.9,177.9,179.8,175.8,180.2,176,181.6,173,182.8,168.2,180.2,165,179.4,162.4,176.5,160.8,174.3,162.1,173,160.2,173.7,160.2,171.4,158.6,171.2,157.3,169.2,158.7,167.7],[174.9,163.3,176.5,163.1,175.8,164.1,176.5,165.3,175.6,165.5]],
"Málaga":[[182,164.1,185.4,161,186.4,162,189.6,160.6,189.9,159.4,192.4,160,195.3,159,197.2,160.2,197.4,160.4,198.2,162,198.5,163.9,202,165.5,204.9,166.5,207.7,167.3,207.7,168.8,203.9,169,200.7,169.3,195.6,169.3,193.7,171.6,191.5,172.2,191.1,173.5,186,173.5,180.9,175.1,179.7,176.7,178.4,176.7,176.5,173,173,173.5,173.6,173.3,175.5,172.4,175.8,171.4,177.7,171,179,168.8,178.1,167.5,179.3,166.3,180.9,167.5,182.2,167.1,182.5,165.3]],
"Baleares":[[324.2,114.7,326.8,113.1,330.3,111.1,332.4,109.9,335.4,108.8,337.5,108.4,338.2,109.1,339.8,109.6,338.5,109.9,339,111.2,341.3,112.2,343,111.2,345,112.4,344.6,113.9,343.3,115.2,341.8,116.5,341,118.8,337.5,120.7,336.2,119.2,332.4,118.9,331.4,116.9,329.3,115.1,327.3,115.9,327,117.1,326.3,115.9,324.3,115.2],[351.6,106.3,358.1,106,360.2,107.3,361,109.7,360.5,110.5,357.9,109.6,354.3,108.1,352.2,108.3],[302.8,126.6,304.2,126.3,304.3,125.1,308.4,123.8,309.9,125.3,308.1,126.8,305.9,128.7,304.8,128.2,302.8,128.2],[305.9,131,306.7,130.7,307.9,131.9,309.2,132.2,305.9,132.4],[335,123.1,335.4,123,335.5,123.3,335.1,123.4]],
"Santa Cruz de Tenerife":[[25.9,210.2,28.3,210.4,28.9,211.5,28.3,213,28.5,214.4,27.2,215.9,26.8,214.7,25.9,213.7,25,211.5],[41.4,217.6,45.1,217,47.1,216.9,48.9,215.7,50.3,214.4,53.2,214.3,52.9,215,50.6,216,49.7,217.4,49.4,219,48.6,220.7,46.6,222.7,44.6,222.4,42.6,219],[35.8,219.9,37.7,220.4,38.4,221.4,37.4,222.4,35.4,222.2,35,220.9],[25.9,225.6,26.5,225.7,25.9,227,25,228.2,23.6,227.2,22.6,227.1,22.7,226.7,24.5,226.9]],
"Las Palmas":[[59.8,223.6,60.4,222.4,62.1,220.7,64.4,220.9,65.8,221,66.1,222.7,66.7,223.7,65.8,225.6,63.5,226.9,61.5,225.9,60.1,224.7],[87.6,212,89.9,211.9,89.9,214.4,89.3,217.4,88.5,219.4,84.5,220.2,82.4,222.2,80.1,221.7,82.4,221.4,84.2,219.9,84.5,218.7,85.6,216.4,87.3,213.7],[95.1,204.5,95.8,204.5,96.2,205,95.6,206.7,94.5,207.7,90.8,209.2,90.5,209.9,89.5,209.7,90.5,207.5,91.9,206.4,94.5,205.9],[94.9,203.7,95.4,204,94.9,204.3]],
"Ceuta":[[183,179,184.3,179.5,184.6,179.9,183.5,179.7]],
"Melilla":[[213.9,180.9,214.2,181.3,213.9,181.7,213.6,181.3]]
};
const enclaveMarks = [{name:"Ceuta",x:184.4,y:186.9,r:1.3},{name:"Melilla",x:212.9,y:186.9,r:1.3}];

const W = 3840, H = 2436;
const X = d3.scaleLinear().domain([0,384]).range([0,W]);
const Y = d3.scaleLinear().domain([0,243.6]).range([0,H]);
const noData = "#dfdfdf";
const colorOf = d3.scaleThreshold().domain([-0.7,-0.3,-0.1,0.1,0.3,1]).range(legendColors.slice().reverse());
const fmt = v => d3.format("+.2f")(v).replace("\u2212","-");
const pts = f => d3.range(0,f.length,2).map(i=>[f[i],f[i+1]]);
const ringPath = d3.line().x(p=>X(p[0])).y(p=>Y(p[1])).curve(d3.curveLinearClosed);

const svg = d3.select("#c");
svg.append("rect").attr("width",W).attr("height",H).attr("fill","#fff");

// map
const provinces = names.map((n,i)=>({name:n,emp:empresas[i],rho:rho[i],lx:labelX[i],ly:labelY[i]}));
const g = svg.append("g");
g.selectAll("path").data(provinces).join("path")
  .attr("d",d=>outlines[d.name].map(r=>ringPath(pts(r))).join(""))
  .attr("fill",d=>d.rho===null?noData:colorOf(d.rho))
  .attr("stroke","#fff").attr("stroke-width",2.6).attr("stroke-linejoin","round");
g.selectAll("circle").data(enclaveMarks).join("circle")
  .attr("cx",d=>X(d.x)).attr("cy",d=>Y(d.y)).attr("r",d=>X(d.r))
  .attr("fill",legendColors[0]);

// helper: rho_rel with subscript
function rhoText(sel,size,after,color,italicAfter){
  sel.append("tspan").attr("font-style","italic").text("ρ");
  sel.append("tspan").attr("font-style","italic").attr("font-size",size*0.72).attr("dy",size*0.22).text("rel");
  sel.append("tspan").attr("dy",-size*0.22).attr("font-style",italicAfter?"italic":"normal").text(after);
}

// labels
provinces.forEach(d=>{
  const small = d.name==="Ceuta"||d.name==="Melilla";
  const cx = X(d.lx), cy = Y(d.ly);
  const t = (dy,size,fill,weight)=>svg.append("text").attr("x",cx).attr("y",cy+dy)
     .attr("text-anchor","middle").attr("font-size",size).attr("fill",fill).attr("font-weight",weight||"normal");
  if(d.rho===null){
    t(7,20,"#555").text(d.name);
    t(29,16.2,"#888").text("Sin empresas");
  } else if(small){
    t(6,17.7,"#111","bold").text(d.name);
    t(34,14.7,"#333").text("Empresas: "+d.emp);
    rhoText(t(52,14.7,"#333"),14.7,": "+fmt(d.rho));
  } else {
    t(7,20,"#111","bold").text(d.name);
    t(34.5,17,"#222").text("Empresas: "+d.emp);
    rhoText(t(53,17,"#222"),17,": "+fmt(d.rho));
  }
});

// header
svg.append("text").attr("x",1859).attr("y",89).attr("text-anchor","middle").attr("font-size",45.65).attr("font-weight","bold").attr("fill","#000").text(titleText);
const sub1 = svg.append("text").attr("x",1859).attr("y",177).attr("text-anchor","middle").attr("font-size",22.75).attr("font-style","italic").attr("fill","#000");
rhoText(sub1,22.75,": Densidad relativa respecto a la media nacional. Ej: +0.10 significa un 10% de sobreponderación.","#000",true);
const sub2 = svg.append("text").attr("x",1859).attr("y",205).attr("text-anchor","middle").attr("font-size",22.75).attr("font-style","italic").attr("fill","#000");
sub2.append("tspan").text("(Si una provincia tiene 50 empresas con ");
rhoText(sub2,22.75," +0.10, tiene un exceso de 5 empresas respecto a su cuota esperada).","#000",true);

// side panel
const side = (y,size,txt,o={})=>svg.append("text").attr("x",160).attr("y",y).attr("font-size",size)
  .attr("font-weight",o.bold?"bold":"normal").attr("font-style",o.italic?"italic":"normal").attr("fill",o.fill||"#000").text(txt);
side(407,33,clusterName,{bold:true});
clusterBlurb.forEach((l,i)=>side(478+i*30.5,27.75,l));
side(704,30.4,totalText,{bold:true});
svg.append("line").attr("x1",159).attr("x2",764).attr("y1",733).attr("y2",733).attr("stroke","#8c8c8c").attr("stroke-width",2);
side(807,25.2,topHeading);
topCompanies.forEach((l,i)=>side(863+i*42.5,22.8,l,{italic:true}));
side(1047,25.4,keywordHeading,{bold:true});
keywordLines.forEach((l,i)=>side(1086+i*25.4,22.8,l));
side(1271,25.4,descHeading,{bold:true});
descLines.forEach((l,i)=>side(1311+i*25.6,22.85,l,{fill:"#444"}));

// legend
svg.append("text").attr("x",3225).attr("y",1993).attr("font-size",28).attr("fill","#000").text(legendTitle);
const rowY = d3.scalePoint().domain(legendLabels).range([2052,2280]);
const leg = svg.append("g").selectAll("g").data(legendLabels).join("g");
leg.append("rect").attr("x",3226).attr("y",d=>rowY(d)-7.5).attr("width",48).attr("height",15).attr("fill",(d,i)=>legendColors[i]);
leg.append("text").attr("x",3296).attr("y",d=>rowY(d)+9).attr("font-size",25.1).attr("fill","#000").text(d=>d);
</script></body></html>
